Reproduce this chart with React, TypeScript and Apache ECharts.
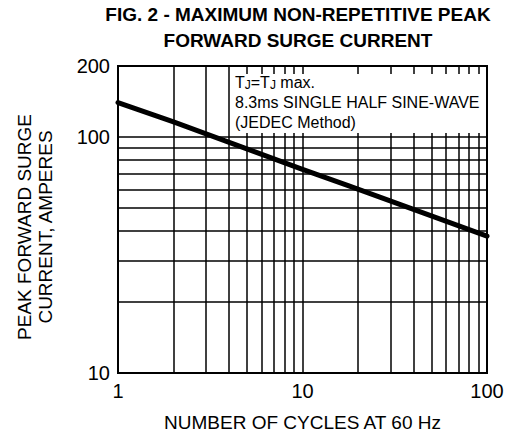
import React, { useEffect, useRef } from "react";
import * as echarts from "echarts";

const cycles = [1, 2, 10, 18, 100];
const surgeAmps = [140, 116, 73, 62, 38];
const xMinorGrid = [2, 3, 4, 5, 6, 7, 8, 9, 20, 30, 40, 50, 60, 70, 80, 90];
const yMinorGrid = [20, 30, 40, 50, 60, 70, 80, 90];
const xTickLabels = [1, 10, 100];
const yTickLabels = [10, 100, 200];

const FONT = "'Liberation Sans', Arial, sans-serif";

export default function App() {
  const ref = useRef<HTMLDivElement>(null);
  useEffect(() => {
    document.body.style.margin = "0";
    const chart = echarts.init(ref.current!, null, { renderer: "svg" });
    const gridLine = { color: "#000", width: 1.5, type: "solid" as const };
    chart.setOption({
      animation: false,
      textStyle: { fontFamily: FONT, color: "#000" },
      title: {
        text: "FIG. 2 - MAXIMUM NON-REPETITIVE PEAK\nFORWARD SURGE CURRENT",
        left: 298,
        top: 1,
        padding: 0,
        textAlign: "center",
        textStyle: { fontFamily: FONT, fontSize: 19, fontWeight: "bold", color: "#000", lineHeight: 26 },
      },
      grid: {
        left: 118,
        right: 23,
        top: 66,
        bottom: 64,
        show: true,
        borderColor: "#000",
        borderWidth: 2,
        backgroundColor: "transparent",
        containLabel: false,
      },
      xAxis: {
        type: "log",
        logBase: 10,
        min: 1,
        max: 100,
        axisLine: { show: false },
        axisTick: { show: false },
        splitLine: { show: true, lineStyle: gridLine },
        axisLabel: {
          fontSize: 20,
          color: "#000",
          fontFamily: FONT,
          margin: 8,
          customValues: xTickLabels,
        },
        name: "NUMBER OF CYCLES AT 60 Hz",
        nameLocation: "middle",
        nameGap: 40,
        nameTextStyle: { fontSize: 19, color: "#000", fontFamily: FONT },
      },
      yAxis: {
        type: "log",
        logBase: 10,
        min: 10,
        max: 200,
        axisLine: { show: false },
        axisTick: { show: false },
        splitLine: { show: true, lineStyle: gridLine },
        axisLabel: {
          fontSize: 20,
          color: "#000",
          fontFamily: FONT,
          margin: 8,
          customValues: yTickLabels,
        },
        name: "PEAK FORWARD SURGE\nCURRENT, AMPERES",
        nameLocation: "middle",
        nameGap: 62,
        nameTextStyle: { fontSize: 19, color: "#000", fontFamily: FONT, lineHeight: 21, padding: [0, 15, 0, 0] },
      },
      series: [
        {
          type: "line",
          data: [],
          z: 1,
          silent: true,
          markLine: {
            silent: true,
            symbol: ["none", "none"],
            label: { show: false },
            lineStyle: gridLine,
            data: [
              ...xMinorGrid.map((v) => ({ xAxis: v })),
              ...yMinorGrid.map((v) => ({ yAxis: v })),
            ],
          },
        },
        {
          type: "line",
          data: cycles.map((c, i) => [c, surgeAmps[i]]),
          symbol: "none",
          z: 5,
          lineStyle: { color: "#000", width: 5, cap: "round", join: "round" },
        },
      ],
      graphic: [
        {
          type: "rect",
          z: 100,
          shape: { x: 231, y: 74, width: 254, height: 59 },
          style: { fill: "#fff" },
        },
        {
          type: "text",
          z: 101,
          x: 235,
          y: 82,
          style: {
            text: "T{s|J}=T{s|J} max.",
            font: `16px ${FONT}`,
            fill: "#000",
            verticalAlign: "middle",
            rich: {
              s: { fontSize: 12, fontFamily: FONT, padding: [5, 0, 0, 0], fill: "#000" },
            },
          },
        },
        {
          type: "text",
          z: 101,
          x: 235,
          y: 102,
          style: { text: "8.3ms SINGLE HALF SINE-WAVE", font: `16px ${FONT}`, fill: "#000", verticalAlign: "middle" },
        },
        {
          type: "text",
          z: 101,
          x: 235,
          y: 122,
          style: { text: "(JEDEC Method)", font: `16px ${FONT}`, fill: "#000", verticalAlign: "middle" },
        },
      ],
    });
    return () => chart.dispose();
  }, []);
  return <div ref={ref} style={{ width: 510, height: 437 }} />;
}
